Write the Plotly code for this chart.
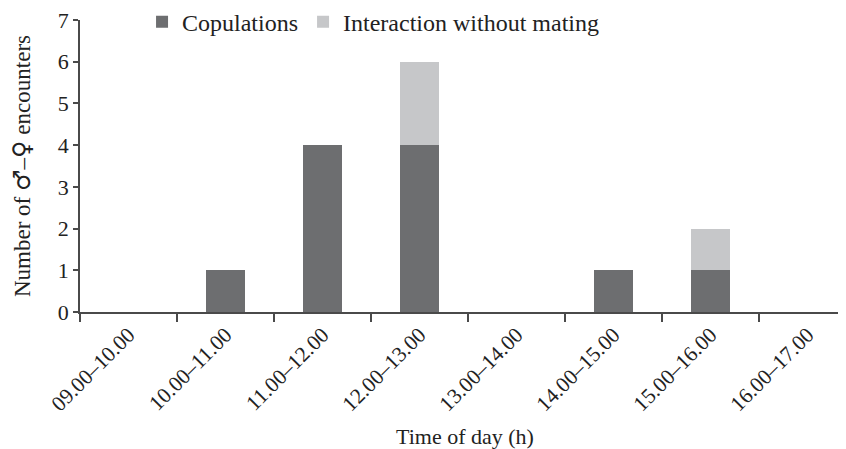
import plotly.graph_objects as go

categories = ["09.00–10.00", "10.00–11.00", "11.00–12.00", "12.00–13.00",
              "13.00–14.00", "14.00–15.00", "15.00–16.00", "16.00–17.00"]
copulations = [0, 1, 4, 4, 0, 1, 1, 0]
interaction = [0, 0, 0, 2, 0, 0, 1, 0]
y_ticks = [0, 1, 2, 3, 4, 5, 6, 7]

FONT = "Liberation Serif"
AX = "#4a4a4a"

fig = go.Figure()
fig.add_trace(go.Bar(x=categories, y=copulations, name="Copulations",
                     marker=dict(color="#6d6e70", line=dict(width=0)), width=0.4))
fig.add_trace(go.Bar(x=categories, y=interaction, name="Interaction without mating",
                     marker=dict(color="#c6c7c9", line=dict(width=0)), width=0.4))

ytitle = ("Number of <span style=\"font-family:'DejaVu Sans';font-size:24px\">♂</span>–"
          "<span style=\"font-family:'DejaVu Sans';font-size:24px\">♀</span> encounters")

fig.update_layout(
    barmode="stack",
    width=838, height=441,
    margin=dict(l=72, r=0, t=12, b=137, autoexpand=False),
    plot_bgcolor="white", paper_bgcolor="white",
    font=dict(family=FONT, size=20, color="#222222"),
    showlegend=True,
    legend=dict(orientation="h", x=0.081, y=0.993, xanchor="left", yanchor="middle",
                font=dict(family=FONT, size=24, color="#222222"),
                bgcolor="rgba(0,0,0,0)", traceorder="normal"),
    xaxis=dict(
        type="category", range=[-0.5, 7.397],
        tickson="boundaries", ticks="outside", ticklen=8, tickwidth=1.5, tickcolor=AX,
        showline=True, linecolor=AX, linewidth=1.5, showgrid=False,
        tickangle=-45, tickfont=dict(family=FONT, size=21.5), ticklabeloverflow="allow",
    ),
    yaxis=dict(
        range=[0, 7], tickvals=y_ticks, ticks="outside", ticklen=5, tickwidth=1.5,
        tickcolor=AX, showline=True, linecolor=AX, linewidth=1.5, showgrid=False,
        zeroline=False, tickfont=dict(family=FONT, size=22), ticklabeloverflow="allow",
    ),
    annotations=[
        dict(text=ytitle, xref="paper", yref="paper", x=-0.0757, y=0.5,
             xanchor="center", yanchor="middle", textangle=-90, showarrow=False,
             font=dict(family=FONT, size=23, color="#222222")),
        dict(text="Time of day (h)", xref="paper", yref="paper", x=0.5026, y=-0.428,
             xanchor="center", yanchor="middle", showarrow=False,
             font=dict(family=FONT, size=22, color="#222222")),
    ],
)

fig.write_html("out.html")
